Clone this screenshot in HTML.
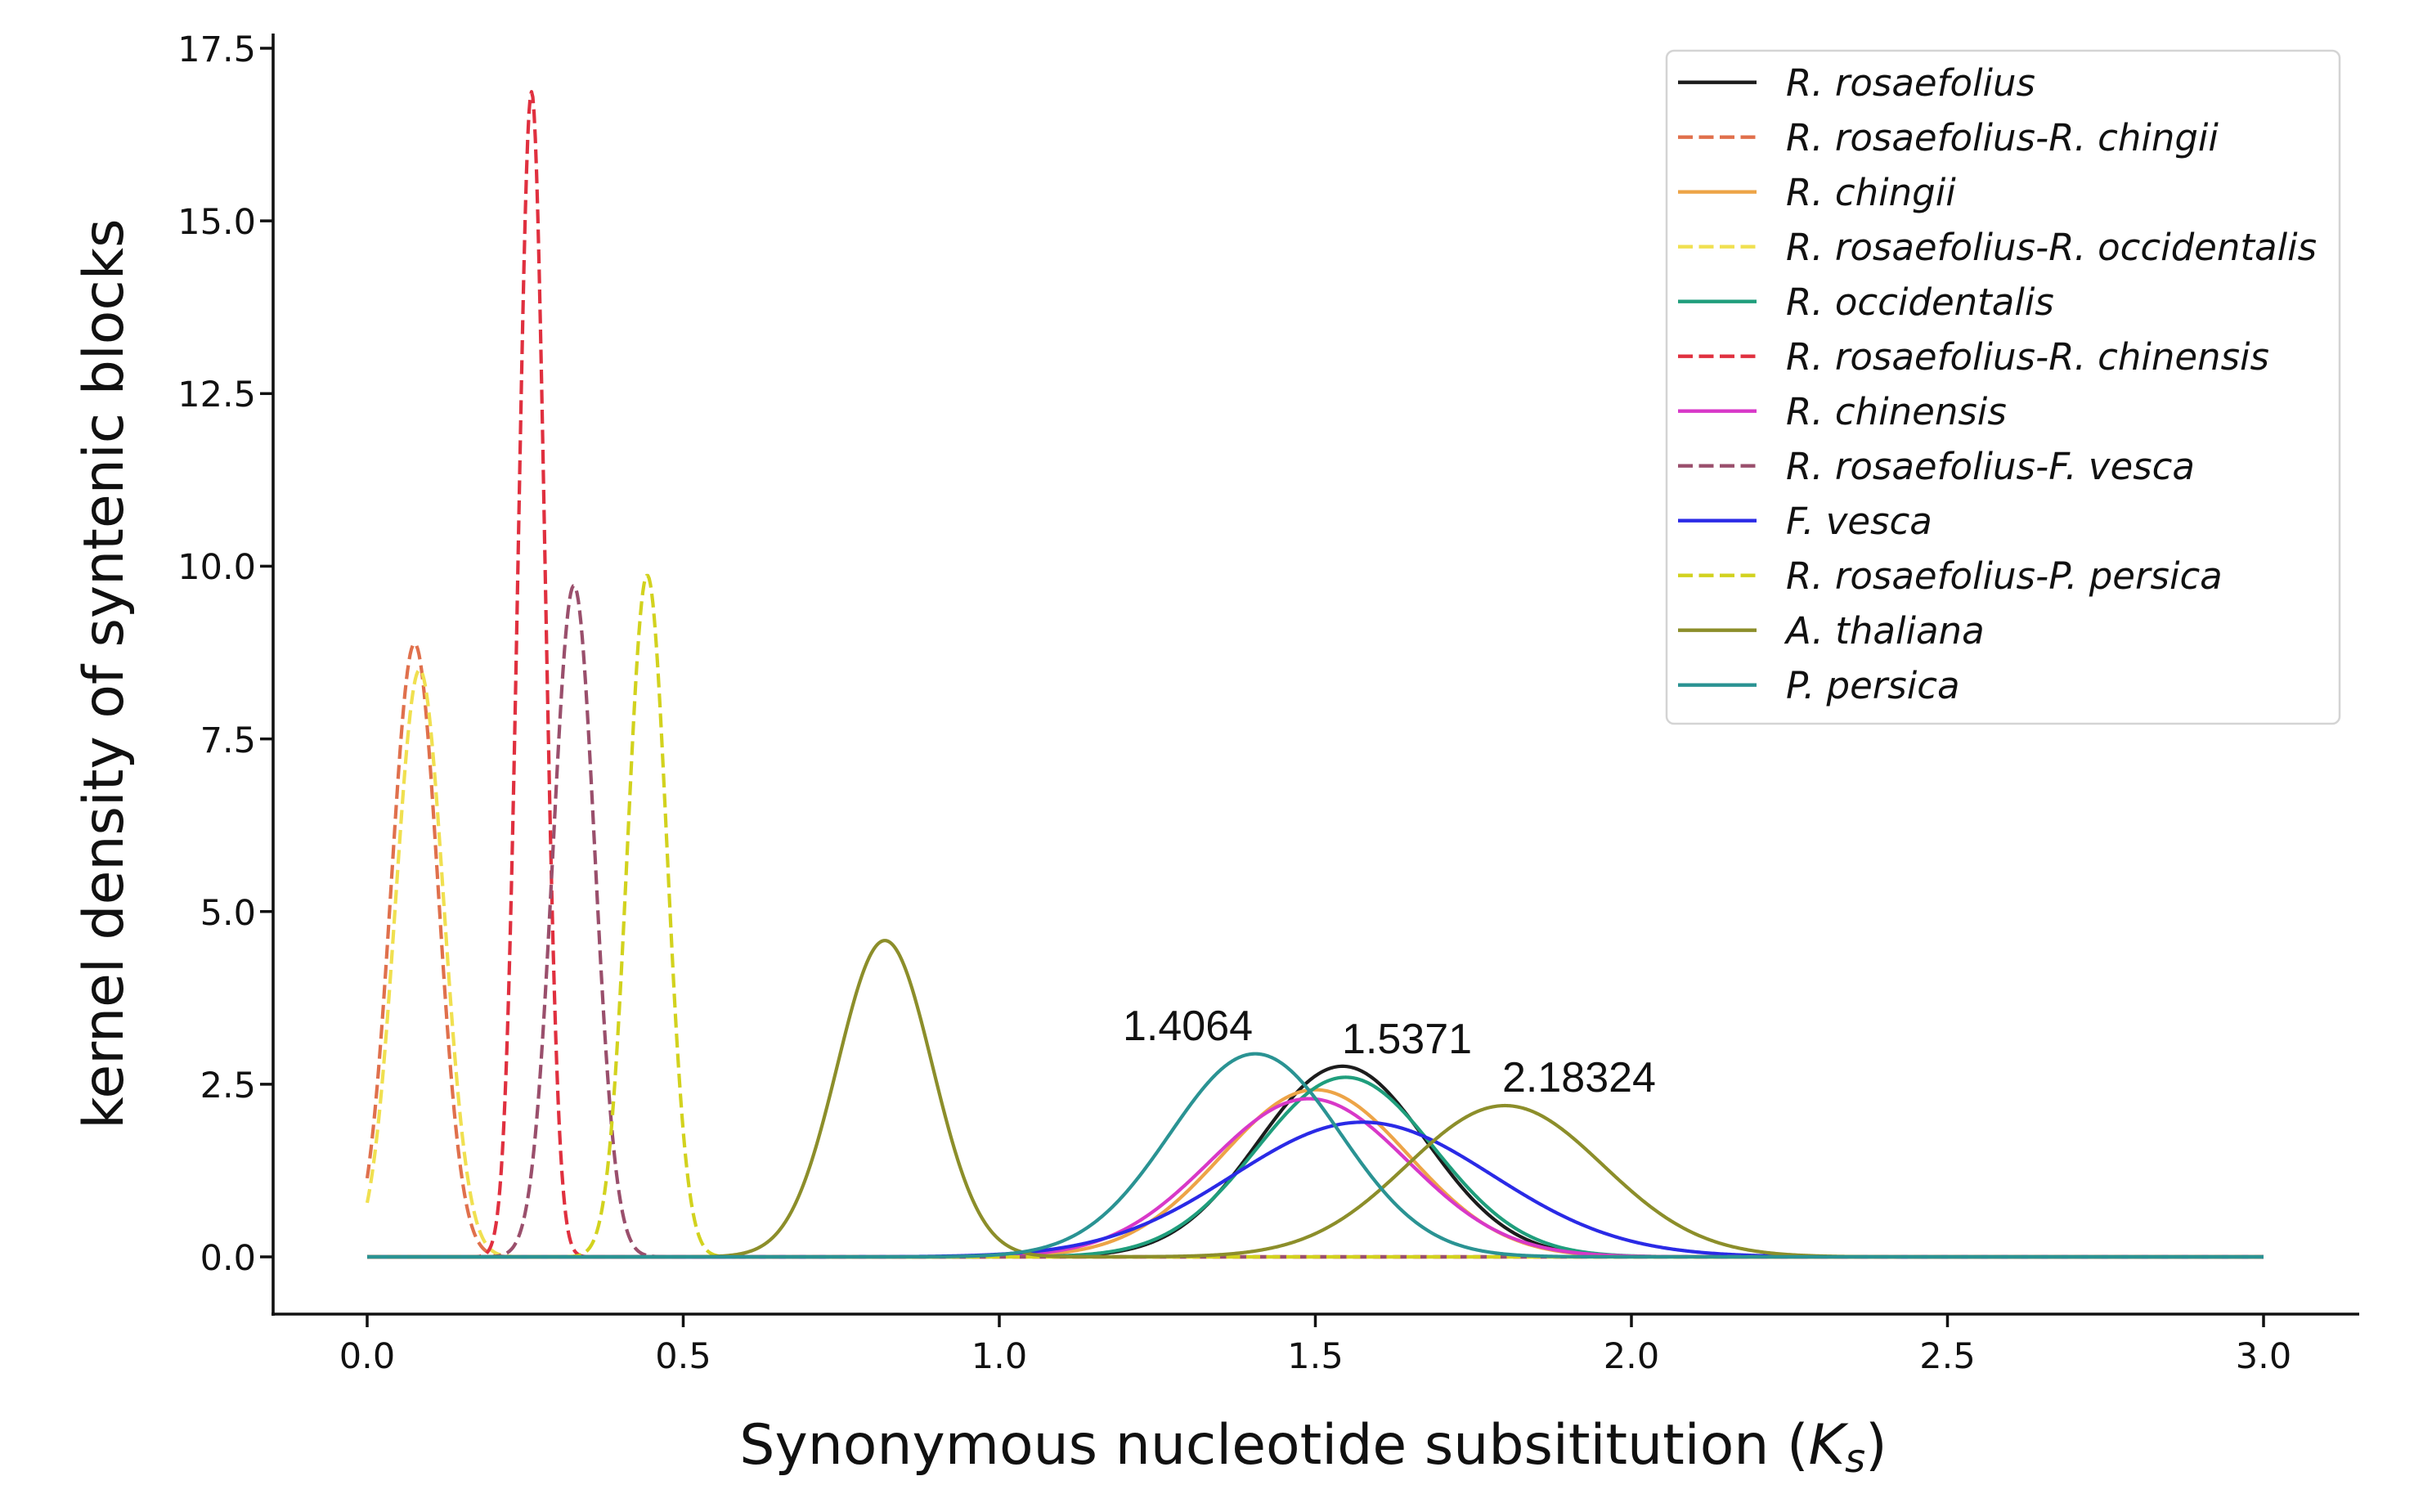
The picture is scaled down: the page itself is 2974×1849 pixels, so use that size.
<!DOCTYPE html>
<html>
<head>
<meta charset="utf-8">
<style>
  html,body{margin:0;padding:0;background:#fff;}
  svg{display:block;}
  .tick{font-family:"DejaVu Sans","Liberation Sans",sans-serif;font-size:43px;fill:#111;}
  .lab{font-family:"DejaVu Sans","Liberation Sans",sans-serif;font-size:68px;fill:#111;}
  .leg{font-family:"DejaVu Sans","Liberation Sans",sans-serif;font-size:45px;font-style:italic;fill:#111;}
  .ann{font-family:"Liberation Sans",Arial,sans-serif;font-size:52px;fill:#111;}
</style>
</head>
<body>
<svg id="chart" width="2974" height="1849" viewBox="0 0 2974 1849" xmlns="http://www.w3.org/2000/svg">
  <rect x="0" y="0" width="2974" height="1849" fill="#fff"/>
  <g id="curves" fill="none" stroke-linejoin="round"></g>

  <!-- spines -->
  <line x1="334" y1="41" x2="334" y2="1609" stroke="#111" stroke-width="3.6"/>
  <line x1="332" y1="1607" x2="2885" y2="1607" stroke="#111" stroke-width="3.6"/>

  <!-- y ticks -->
  <g stroke="#111" stroke-width="3.5">
    <line x1="318" y1="1537" x2="334" y2="1537"/>
    <line x1="318" y1="1325.9" x2="334" y2="1325.9"/>
    <line x1="318" y1="1114.7" x2="334" y2="1114.7"/>
    <line x1="318" y1="903.6" x2="334" y2="903.6"/>
    <line x1="318" y1="692.4" x2="334" y2="692.4"/>
    <line x1="318" y1="481.3" x2="334" y2="481.3"/>
    <line x1="318" y1="270.1" x2="334" y2="270.1"/>
    <line x1="318" y1="59" x2="334" y2="59"/>
  </g>
  <g class="tick" text-anchor="end">
    <text x="313" y="1553">0.0</text>
    <text x="313" y="1342">2.5</text>
    <text x="313" y="1131">5.0</text>
    <text x="313" y="920">7.5</text>
    <text x="313" y="708">10.0</text>
    <text x="313" y="497">12.5</text>
    <text x="313" y="286">15.0</text>
    <text x="313" y="75">17.5</text>
  </g>

  <!-- x ticks -->
  <g stroke="#111" stroke-width="3.5">
    <line x1="449" y1="1607" x2="449" y2="1623"/>
    <line x1="835.5" y1="1607" x2="835.5" y2="1623"/>
    <line x1="1222" y1="1607" x2="1222" y2="1623"/>
    <line x1="1608.5" y1="1607" x2="1608.5" y2="1623"/>
    <line x1="1995" y1="1607" x2="1995" y2="1623"/>
    <line x1="2381.5" y1="1607" x2="2381.5" y2="1623"/>
    <line x1="2768" y1="1607" x2="2768" y2="1623"/>
  </g>
  <g class="tick" text-anchor="middle">
    <text x="449" y="1673">0.0</text>
    <text x="835.5" y="1673">0.5</text>
    <text x="1222" y="1673">1.0</text>
    <text x="1608.5" y="1673">1.5</text>
    <text x="1995" y="1673">2.0</text>
    <text x="2381.5" y="1673">2.5</text>
    <text x="2768" y="1673">3.0</text>
  </g>

  <!-- axis labels -->
  <text class="lab" transform="translate(150,824) rotate(-90)" text-anchor="middle">kernel density of syntenic blocks</text>
  <text class="lab" x="1606" y="1790" text-anchor="middle">Synonymous nucleotide subsititution (<tspan font-style="italic">K</tspan><tspan font-style="italic" font-size="48" dy="10">s</tspan><tspan dy="-10">)</tspan></text>

  <!-- annotations -->
  <text class="ann" x="1373" y="1272">1.4064</text>
  <text class="ann" x="1641" y="1288">1.5371</text>
  <text class="ann" x="1837" y="1335">2.18324</text>

  <!-- legend -->
  <rect x="2038" y="62" width="823" height="823" rx="9" ry="9" fill="#fff" fill-opacity="0.9" stroke="#d4d4d4" stroke-width="2.5"/>
  <g id="leghandles" fill="none"></g>
  <g class="leg">
    <text x="2184" y="117">R. rosaefolius</text>
    <text x="2184" y="184">R. rosaefolius-R. chingii</text>
    <text x="2184" y="251">R. chingii</text>
    <text x="2184" y="318">R. rosaefolius-R. occidentalis</text>
    <text x="2184" y="385">R. occidentalis</text>
    <text x="2184" y="452">R. rosaefolius-R. chinensis</text>
    <text x="2184" y="519">R. chinensis</text>
    <text x="2184" y="586">R. rosaefolius-F. vesca</text>
    <text x="2184" y="653">F. vesca</text>
    <text x="2184" y="720">R. rosaefolius-P. persica</text>
    <text x="2184" y="787">A. thaliana</text>
    <text x="2184" y="854">P. persica</text>
  </g>
</svg>
<script>
(function(){
  var NS="http://www.w3.org/2000/svg";
  function X(v){return 449+773*v;}
  function Y(v){return 1537-84.46*v;}
  var series=[
    {c:"#1c1c1c",d:false,g:[[2.76,1.543,0.133]]},
    {c:"#e0704c",d:true ,g:[[8.88,0.075,0.037]]},
    {c:"#eda447",d:false,g:[[2.42,1.50,0.148]]},
    {c:"#f0e050",d:true ,g:[[8.50,0.083,0.038]]},
    {c:"#1f9e7c",d:false,g:[[2.60,1.548,0.140]]},
    {c:"#e0303f",d:true ,g:[[16.87,0.260,0.021]]},
    {c:"#d838c8",d:false,g:[[2.29,1.49,0.156]]},
    {c:"#9a4f6c",d:true ,g:[[9.72,0.327,0.033]]},
    {c:"#2a2ae6",d:false,g:[[1.95,1.575,0.205]]},
    {c:"#d2d21e",d:true ,g:[[9.87,0.443,0.031]]},
    {c:"#8c8e2a",d:false,g:[[4.58,0.819,0.075],[2.19,1.80,0.155]]},
    {c:"#2a9393",d:false,g:[[2.94,1.405,0.135]]}
  ];
  var cg=document.getElementById("curves");
  var lg=document.getElementById("leghandles");
  series.forEach(function(s,i){
    var pts=[];
    for(var k=0;k<=1500;k++){
      var x=k*0.002,y=0;
      s.g.forEach(function(p){var z=(x-p[1])/p[2];y+=p[0]*Math.exp(-0.5*z*z);});
      pts.push((k?"L":"M")+X(x).toFixed(2)+" "+Y(y).toFixed(2));
    }
    var path=document.createElementNS(NS,"path");
    path.setAttribute("d",pts.join(""));
    path.setAttribute("stroke",s.c);
    path.setAttribute("stroke-width","4.2");
    if(s.d) path.setAttribute("stroke-dasharray","17 7.5");
    cg.appendChild(path);
    var ly=100.7+67*i;
    var l=document.createElementNS(NS,"line");
    l.setAttribute("x1","2052");l.setAttribute("x2","2148");
    l.setAttribute("y1",ly);l.setAttribute("y2",ly);
    l.setAttribute("stroke",s.c);l.setAttribute("stroke-width","4.4");
    if(s.d) l.setAttribute("stroke-dasharray","18 7.5");
    lg.appendChild(l);
  });
})();
</script>
</body>
</html>
